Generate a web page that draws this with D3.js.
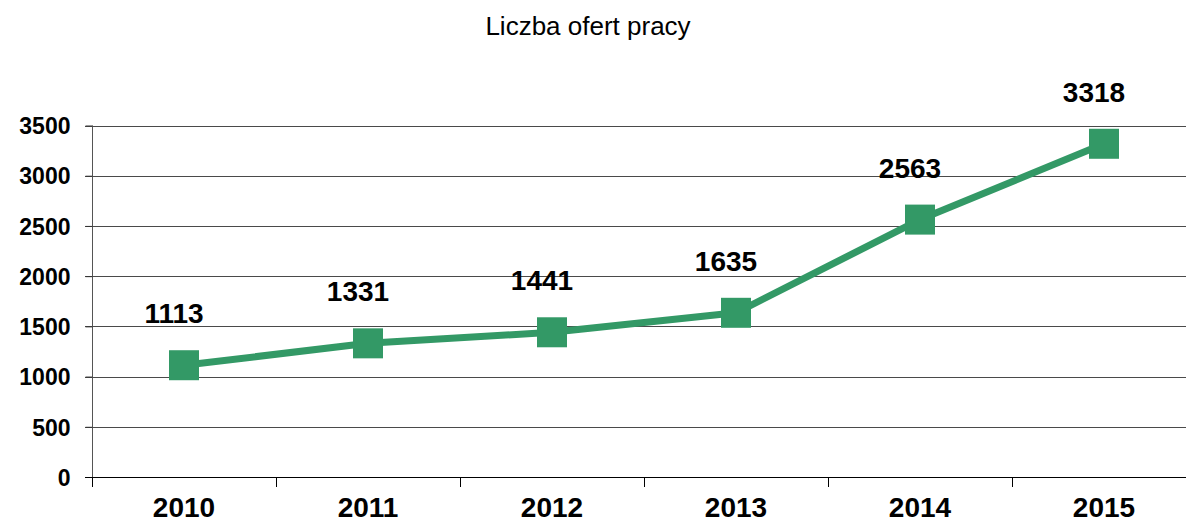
<!DOCTYPE html>
<html>
<head>
<meta charset="utf-8">
<script src="https://cdn.jsdelivr.net/npm/d3@7"></script>
<style>
  body { margin: 0; background: #fff; }
  svg { display: block; font-family: Arial, "Liberation Sans", sans-serif; }
</style>
</head>
<body>
<div id="canvas"></div>
<script>
// data
const years = ['2010', '2011', '2012', '2013', '2014', '2015']
const offers = [1113, 1331, 1441, 1635, 2563, 3318]
const yTicks = [0, 500, 1000, 1500, 2000, 2500, 3000, 3500]
const title = 'Liczba ofert pracy'

const width = 1186
const height = 524
const green = '#339966'

const svg = d3.select('#canvas')
    .append('svg').attr('width', width).attr('height', height)

// scales
const x = d3.scaleBand()
    .domain(years)
    .range([92, 92 + 184 * years.length])
const y = d3.scaleLinear()
    .domain([0, 3500])
    .range([477, 125.5])

// gridlines
svg.append('g')
    .selectAll('line')
    .data(yTicks.filter(d => d > 0))
    .join('line')
    .attr('x1', 85).attr('x2', width)
    .attr('y1', d => Math.round(y(d)) + 0.5).attr('y2', d => Math.round(y(d)) + 0.5)
    .attr('stroke', '#4a4a4a')
    .attr('stroke-width', 1)

// y axis
const yAxis = d3.axisLeft(y)
    .tickValues(yTicks)
    .tickFormat(d3.format('d'))
    .tickSize(7)
    .tickPadding(15)
svg.append('g')
    .attr('transform', 'translate(92.5,0)')
    .call(yAxis)
    .call(g => g.select('.domain').attr('stroke', '#555').attr('d', `M0,${y(3500)}V${y(0) + 10}`))
    .call(g => g.selectAll('.tick line').attr('stroke', '#333'))
    .call(g => g.selectAll('.tick text')
        .attr('font-size', 23).attr('font-weight', 'bold').attr('fill', '#000')
        .attr('dy', '0.36em'))

// x axis
svg.append('line')
    .attr('x1', 85).attr('x2', width)
    .attr('y1', 477.5).attr('y2', 477.5)
    .attr('stroke', '#000')
svg.append('g')
    .selectAll('line')
    .data(years)
    .join('line')
    .attr('x1', d => Math.round(x(d)) + 0.5).attr('x2', d => Math.round(x(d)) + 0.5)
    .attr('y1', 477).attr('y2', 487)
    .attr('stroke', '#000')
svg.append('g')
    .selectAll('text')
    .data(years)
    .join('text')
    .attr('x', d => x(d) + x.bandwidth() / 2)
    .attr('y', 517)
    .attr('text-anchor', 'middle')
    .attr('font-size', 28)
    .attr('font-weight', 'bold')
    .text(d => d)

// line
const pts = years.map((d, i) => [x(d) + x.bandwidth() / 2, y(offers[i])])
svg.append('path')
    .attr('d', d3.line()(pts))
    .attr('fill', 'none')
    .attr('stroke', green)
    .attr('stroke-width', 7)
    .attr('stroke-linejoin', 'round')

// markers
svg.append('g')
    .selectAll('rect')
    .data(pts)
    .join('rect')
    .attr('x', d => d[0] - 15)
    .attr('y', d => d[1] - 15)
    .attr('width', 30)
    .attr('height', 30)
    .attr('fill', green)

// value labels
svg.append('g')
    .selectAll('text')
    .data(pts)
    .join('text')
    .attr('x', d => d[0] - 10)
    .attr('y', d => d[1] - 42)
    .attr('text-anchor', 'middle')
    .attr('font-size', 28)
    .attr('font-weight', 'bold')
    .text((d, i) => offers[i])

// title
svg.append('text')
    .attr('x', 588)
    .attr('y', 35)
    .attr('text-anchor', 'middle')
    .attr('font-size', 26)
    .text(title)
</script>
</body>
</html>
